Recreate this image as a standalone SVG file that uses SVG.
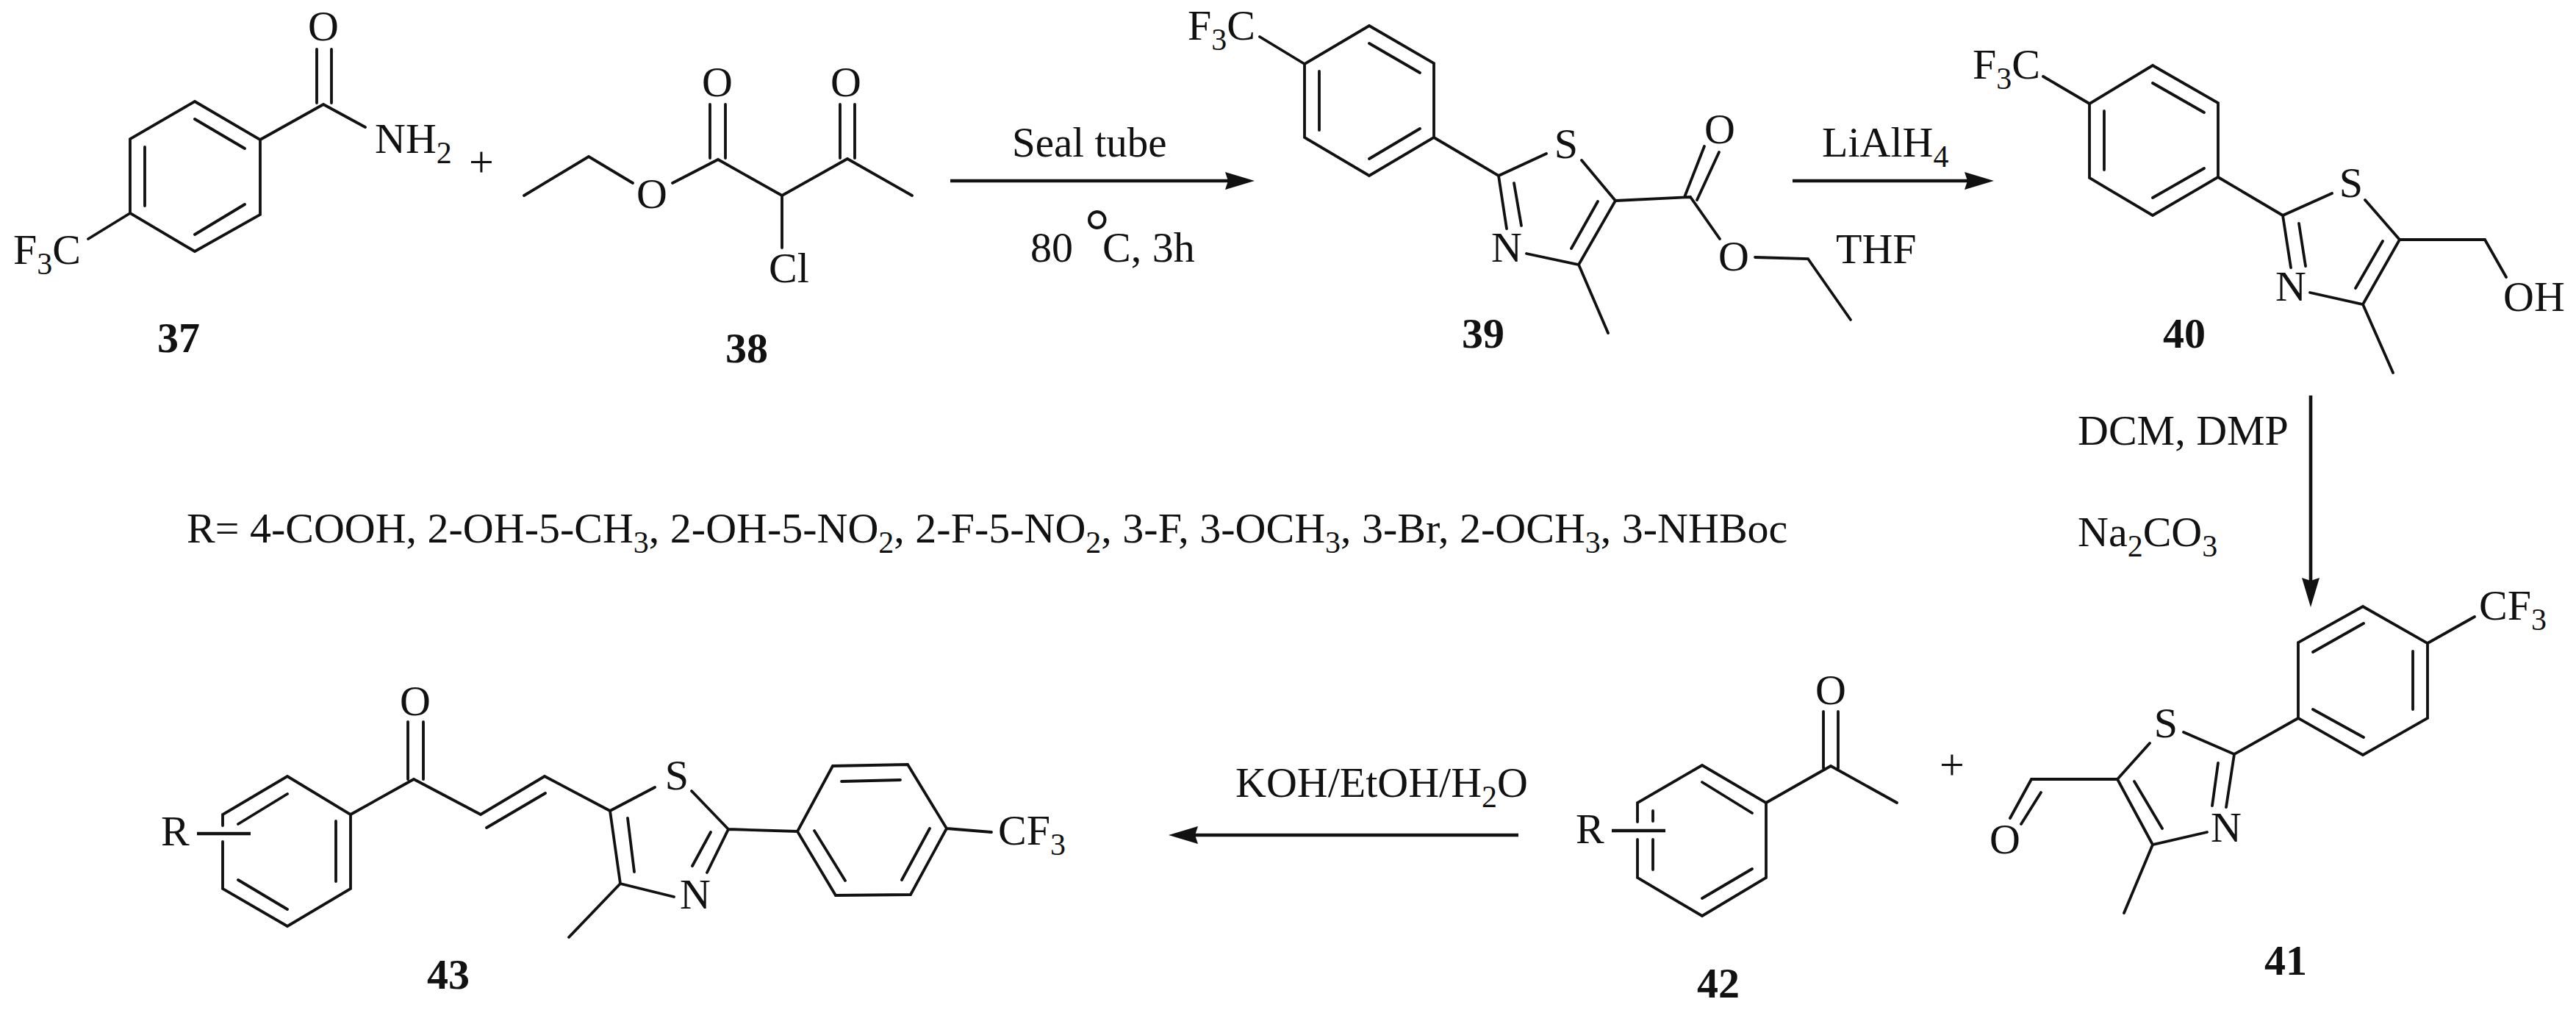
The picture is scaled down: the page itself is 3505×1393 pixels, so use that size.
<svg xmlns="http://www.w3.org/2000/svg" width="3505" height="1393" viewBox="0 0 3505 1393">
<style>
text{font-family:"Liberation Serif","Times New Roman",serif;font-size:58px;fill:#111}
.s{font-size:42px}
.n{font-weight:bold}
.m{text-anchor:middle}
.b{fill:none;stroke:#111;stroke-width:3.8;stroke-linecap:round;stroke-linejoin:miter}
.a{fill:none;stroke:#111;stroke-width:4.6}
</style>
<defs>
<marker id="h" markerUnits="userSpaceOnUse" viewBox="0 0 40 26" refX="4" refY="13" markerWidth="40" markerHeight="26" orient="auto"><path d="M0 1L40 13L0 25L4 13Z" fill="#111"/></marker>
</defs>
<rect width="3505" height="1393" fill="#fff"/>

<g id="c37">
<path class="b" d="M265 138L354 190L354 292L265 342L177 290L177 189ZM265 162L333 202M197 200L197 280M265 319L333 278M354 190L440 142L497 173M431 67L431 140M451 67L451 140M177 290L120 325"/>
<text x="440" y="55" class="m">O</text>
<text x="510" y="208">NH<tspan class="s" dy="14">2</tspan></text>
<text x="18" y="359">F<tspan class="s" dy="14">3</tspan><tspan dy="-14">C</tspan></text>
<text x="243" y="479" class="n m">37</text>
</g>
<g id="plus1"><text x="655" y="240" class="m" style="font-size:60px">+</text></g>
<g id="c38">
<path class="b" d="M713 266L801 213L861 249M915 249L977 217L1064 266L1153 216L1241 266M966 142L966 215M987 142L987 215M1143 142L1143 215M1163 142L1163 215M1064 266L1064 337"/>
<text x="887" y="283" class="m">O</text>
<text x="976" y="131" class="m">O</text>
<text x="1151" y="131" class="m">O</text>
<text x="1046" y="384">Cl</text>
<text x="1016" y="493" class="n m">38</text>
</g>
<g id="c39">
<path class="b" d="M1863 35L1951 86L1951 187L1863 239L1775 187L1775 87ZM1863 59L1932 99M1795 97L1795 177M1863 216L1932 175M1714 50L1775 87M1951 187L2039 239L2104 209M2152 218L2198 273L2148 360L2077 345M2039 239L2050 311M2060 249L2070 307M2174 274L2138 338M2148 360L2188 453M2198 273L2300 268L2340 325M2292 268L2319 199M2309 272L2339 207M2388 350L2460 352L2518 435"/>
<text x="1616" y="54">F<tspan class="s" dy="14">3</tspan><tspan dy="-14">C</tspan></text>
<text x="2131" y="215" class="m">S</text>
<text x="2050" y="356" class="m">N</text>
<text x="2340" y="195" class="m">O</text>
<text x="2359" y="368" class="m">O</text>
<text x="2018" y="473" class="n m">39</text>
</g>
<g id="c40">
<path class="b" d="M2929 89L3018 140L3018 241L2929 293L2843 242L2843 141ZM2929 113L2999 153M2863 151L2863 231M2929 269L2999 229M2780 104L2843 141M3018 241L3106 293L3173 263M3218 272L3265 326L3215 414L3143 398M3106 293L3117 364M3128 304L3137 362M3242 328L3205 392M3215 414L3256 507M3265 326L3381 326L3410 377"/>
<text x="2684" y="107">F<tspan class="s" dy="14">3</tspan><tspan dy="-14">C</tspan></text>
<text x="3199" y="268" class="m">S</text>
<text x="3117" y="409" class="m">N</text>
<text x="3406" y="423">OH</text>
<text x="2972" y="473" class="n m">40</text>
</g>
<g id="c41">
<path class="b" d="M3215 825L3303 875L3303 977L3215 1027L3127 977L3127 874ZM3216 848L3147 887M3283 886L3283 965M3147 965L3216 1003M3303 875L3367 839M3127 977L3040 1026L2971 996M2925 1011L2881 1060L2929 1149L3003 1132M3040 1026L3029 1098M3018 1038L3010 1096M2904 1063L2942 1127M2929 1149L2890 1242M2881 1060L2764 1060L2735 1113M2777 1078L2750 1121"/>
<text x="3373" y="843">CF<tspan class="s" dy="14">3</tspan></text>
<text x="2947" y="1003" class="m">S</text>
<text x="3029" y="1145" class="m">N</text>
<text x="2728" y="1161" class="m">O</text>
<text x="3110" y="1326" class="n m">41</text>
</g>
<g id="plus2"><text x="2656" y="1060" class="m" style="font-size:60px">+</text></g>
<g id="c42">
<path class="b" d="M2228 1118L2228 1092L2316 1041L2403 1092L2403 1194L2316 1246L2228 1194L2228 1142M2316 1064L2384 1106M2249 1103L2249 1117M2249 1142L2249 1183M2316 1222L2384 1182M2403 1092L2491 1042L2581 1092M2481 968L2481 1045M2501 968L2501 1045"/>
<path class="a" d="M2193 1130L2266 1130"/>
<text x="2144" y="1147">R</text>
<text x="2491" y="958" class="m">O</text>
<text x="2338" y="1357" class="n m">42</text>
</g>
<g id="c43">
<path class="b" d="M303 1123L303 1108L391 1056L477 1108L477 1209L391 1260L303 1209L303 1145M391 1080L324 1121M457 1117L457 1199M324 1197L391 1237M477 1108L563 1060L654 1108L741 1056L830 1103L891 1071M662 1126L742 1079M555 982L555 1060M576 982L576 1060M941 1076L991 1128L962 1187M967 1132L942 1178M830 1103L844 1202L917 1220M854 1113L863 1186M844 1202L774 1275M991 1128L1085 1131L1133 1042L1235 1040L1288 1127L1239 1217L1137 1218L1085 1131M1145 1063L1225 1061M1265 1127L1227 1197M1108 1130L1150 1198M1288 1127L1349 1132"/>
<path class="a" d="M268 1134L341 1134"/>
<text x="219" y="1150">R</text>
<text x="565" y="973" class="m">O</text>
<text x="921" y="1074" class="m">S</text>
<text x="946" y="1236" class="m">N</text>
<text x="1358" y="1149">CF<tspan class="s" dy="14">3</tspan></text>
<text x="610" y="1345" class="n m">43</text>
</g>

<g id="connectors">
<path class="a" d="M1293 246L1671 246" marker-end="url(#h)"/>
<path class="a" d="M2439 246L2677 246" marker-end="url(#h)"/>
<path class="a" d="M3144 538L3144 790" marker-end="url(#h)"/>
<path class="a" d="M2066 1136L1626 1136" marker-end="url(#h)"/>
</g>

<g id="labels">
<text x="1377" y="213" style="font-size:57px">Seal tube</text>
<text x="1402" y="356">80</text>
<text x="1476" y="343" style="font-size:84px;letter-spacing:-12px">°</text>
<text x="1500" y="356">C, 3h</text>
<text x="2479" y="213">LiAlH<tspan class="s" dy="14">4</tspan></text>
<text x="2498" y="358">THF</text>
<text x="2827" y="605">DCM, DMP</text>
<text x="2827" y="743">Na<tspan class="s" dy="14">2</tspan><tspan dy="-14">CO</tspan><tspan class="s" dy="14">3</tspan></text>
<text x="1681" y="1084">KOH/EtOH/H<tspan class="s" dy="14">2</tspan><tspan dy="-14">O</tspan></text>
<text x="254" y="738">R= 4-COOH, 2-OH-5-CH<tspan class="s" dy="14">3</tspan><tspan dy="-14">, 2-OH-5-NO</tspan><tspan class="s" dy="14">2</tspan><tspan dy="-14">, 2-F-5-NO</tspan><tspan class="s" dy="14">2</tspan><tspan dy="-14">, 3-F, 3-OCH</tspan><tspan class="s" dy="14">3</tspan><tspan dy="-14">, 3-Br, 2-OCH</tspan><tspan class="s" dy="14">3</tspan><tspan dy="-14">, 3-NHBoc</tspan></text>
</g>
</svg>
